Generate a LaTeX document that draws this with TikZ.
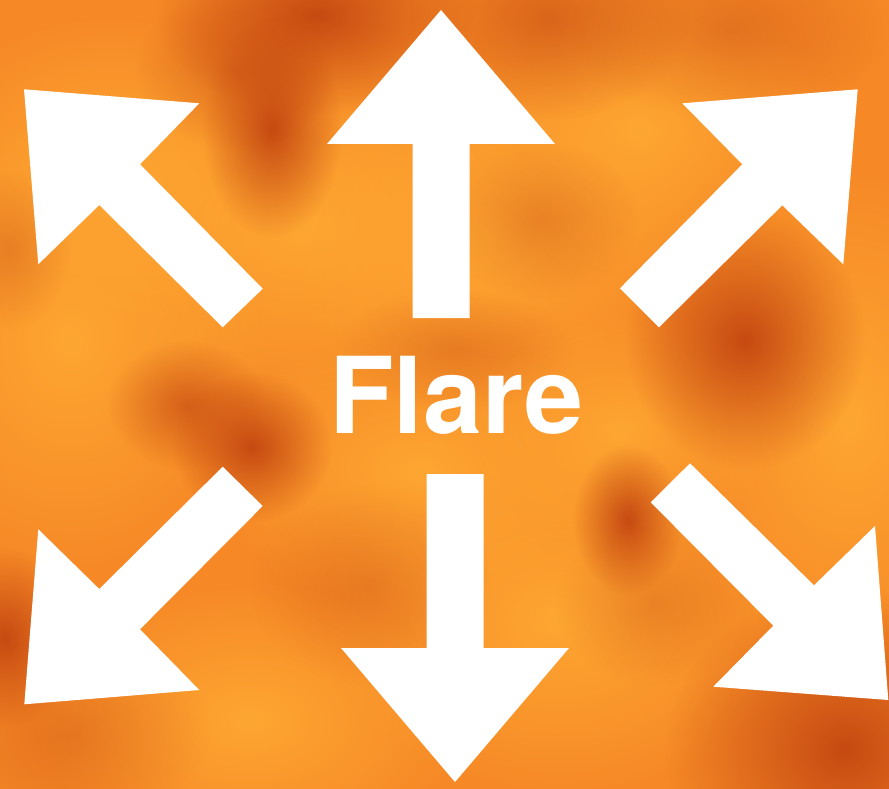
\documentclass[tikz,border=0pt]{standalone}
\usepackage{fontspec}
\setmainfont{TeX Gyre Heros}
\usetikzlibrary{fadings}
\definecolor{fondo naranja}{RGB}{246,136,38}
\definecolor{naranja oscuro}{RGB}{198,74,18}
\definecolor{naranja claro}{RGB}{254,166,50}
\tikzfading[name=mancha, inner color=transparent!0, outer color=transparent!100]

\begin{document}
\begin{tikzpicture}[x=1pt, y=-1pt,
    flecha/.style={fill=white},
    oscura/.style={fill=naranja oscuro, path fading=mancha},
    clara/.style={fill=naranja claro, path fading=mancha}]
  \useasboundingbox (0,0) rectangle (889,789);
  \clip (0,0) rectangle (889,789);
  % fondo con manchas
  \fill[fondo naranja] (0,0) rectangle (889,789);
  \fill[clara] (300,225) ellipse (260 and 200);
  \fill[clara] (490,235) ellipse (220 and 180);
  \fill[clara] (70,340) ellipse (200 and 240);
  \fill[clara] (850,420) ellipse (180 and 260);
  \fill[clara] (560,620) ellipse (240 and 180);
  \fill[clara] (110,170) ellipse (200 and 160);
  \fill[clara] (640,130) ellipse (200 and 160);
  \fill[clara] (420,470) ellipse (220 and 140);
  \fill[clara] (250,720) ellipse (220 and 140);
  \fill[clara] (620,430) ellipse (160 and 120);
  \fill[oscura] (317,15) ellipse (160 and 100);
  \fill[oscura, fill opacity=0.6] (550,20) ellipse (140 and 100);
  \fill[oscura] (272,128) ellipse (70 and 110);
  \fill[oscura, fill opacity=0.5] (235,70) ellipse (100 and 80);
  \fill[oscura] (745,340) ellipse (120 and 130);
  \fill[oscura, fill opacity=0.7] (187,405) ellipse (80 and 65);
  \fill[oscura] (252,447) ellipse (80 and 75);
  \fill[oscura] (628,520) ellipse (55 and 75);
  \fill[oscura] (5,638) ellipse (70 and 90);
  \fill[oscura] (845,750) ellipse (180 and 160);
  \fill[oscura, fill opacity=0.35] (455,350) ellipse (120 and 60);
  \fill[oscura, fill opacity=0.35] (540,220) ellipse (100 and 80);
  \fill[oscura, fill opacity=0.4] (730,30) ellipse (160 and 90);
  \fill[oscura, fill opacity=0.3] (370,585) ellipse (120 and 100);
  \fill[oscura, fill opacity=0.3] (655,605) ellipse (100 and 80);
  \fill[oscura, fill opacity=0.35] (10,250) ellipse (60 and 80);
  \fill[oscura, fill opacity=0.35] (70,735) ellipse (140 and 100);
  % flechas
  \fill[flecha] (412.5,318) -- (412.5,144) -- (327,144) -- (441,10) -- (555,144) -- (469.5,144) -- (469.5,318) -- cycle;
  \fill[flecha] (426.5,474) -- (426.5,648) -- (341,648) -- (455,782) -- (569,648) -- (483.5,648) -- (483.5,474) -- cycle;
  \fill[flecha] (24,89.3) -- (199.3,103.3) -- (140,164.3) -- (262.7,288.7) -- (222.7,327.3) -- (99.3,205) -- (38.3,264.3) -- cycle;
  \fill[flecha] (857.7,89.3) -- (843.3,264.3) -- (782.3,205.3) -- (659,327.3) -- (620,288.3) -- (742.3,164.3) -- (682.3,103.3) -- cycle;
  \fill[flecha] (24.3,704.3) -- (38.3,529.3) -- (99.3,589) -- (222.7,466.7) -- (262.7,506) -- (140,629.3) -- (199.3,690) -- cycle;
  \fill[flecha] (888.3,700) -- (713.3,686.7) -- (773.3,625.7) -- (650.7,502.3) -- (690,463.3) -- (814,585.3) -- (875,526) -- cycle;
  \node[white, anchor=base, inner sep=0pt, font=\bfseries\fontsize{106}{106}\selectfont] (flare) at (456,433.5) {Flare};
\end{tikzpicture}
\end{document}
